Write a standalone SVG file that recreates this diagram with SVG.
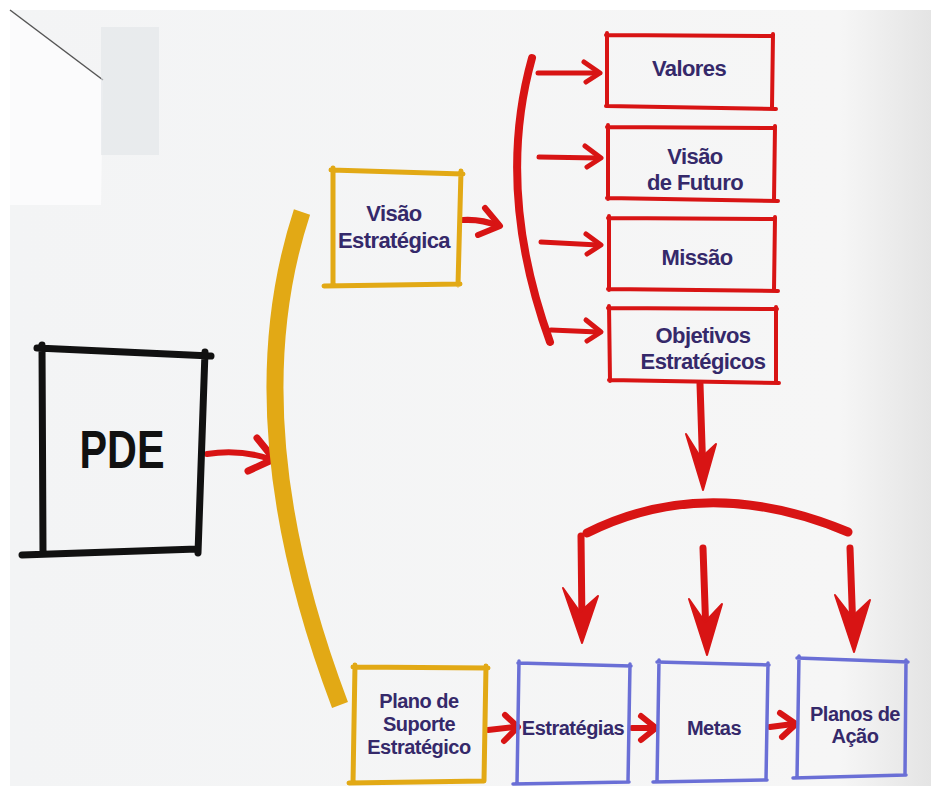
<svg xmlns="http://www.w3.org/2000/svg" width="941" height="796" viewBox="0 0 941 796">
<defs>
<linearGradient id="page" x1="0" y1="0" x2="1" y2="0">
<stop offset="0" stop-color="#f3f4f5"/>
<stop offset="0.9" stop-color="#f6f6f6"/>
<stop offset="1" stop-color="#e4e4e4"/>
</linearGradient>
<style>
.lbl{font-family:"Liberation Sans",Arial,sans-serif;font-weight:bold;font-size:22px;letter-spacing:-0.6px;fill:#35296a;text-anchor:middle}
.sm{font-size:20px;letter-spacing:-0.5px}
.red{fill:none;stroke:#d81414;stroke-linecap:round;stroke-linejoin:round}
.redf{fill:#d81414;stroke:#d81414;stroke-width:2;stroke-linejoin:round}
.rbox{fill:none;stroke:#d81414;stroke-width:4;stroke-linecap:round}
.gbox{fill:none;stroke:#e2a915;stroke-width:5;stroke-linecap:round}
.bbox{fill:none;stroke:#6a6fd6;stroke-width:3.5;stroke-linecap:round}
</style>
</defs>
<rect x="0" y="0" width="941" height="796" fill="#ffffff"/>
<rect x="10" y="10" width="921" height="776" fill="url(#page)"/>
<path d="M10,10 L103,80 L101,205 L10,205 Z" fill="#fbfbfc"/>
<path d="M10,10 L103,80" stroke="#555" stroke-width="1.5" fill="none"/>
<rect x="101" y="27" width="58" height="128" fill="#e1e4e8" opacity="0.6"/>

<g id="connectors">
<path class="red" stroke-width="6" d="M207,454 Q240,449 270,459"/>
<path class="red" stroke-width="7" d="M257,438 L274,459 L248,471"/>
<path d="M302,212 Q233,422 340,705" fill="none" stroke="#e2a915" stroke-width="17"/>
<path class="red" stroke-width="6" d="M463,220 Q482,219 498,226"/>
<path class="red" stroke-width="6" d="M485,208 L500,226 L478,235"/>
<path class="red" stroke-width="8" stroke-linecap="butt" d="M532,58 Q495,190 550,342"/>
<path class="red" stroke-width="5" d="M538,73 L598,73"/>
<path class="red" stroke-width="5" d="M584,62 L600,73 L586,82"/>
<path class="red" stroke-width="5" d="M539,157 L598,158"/>
<path class="red" stroke-width="5" d="M585,146 L601,158 L587,167"/>
<path class="red" stroke-width="5" d="M541,242 L598,245"/>
<path class="red" stroke-width="5" d="M586,234 L601,245 L587,254"/>
<path class="red" stroke-width="5" d="M551,330 L598,332"/>
<path class="red" stroke-width="5" d="M586,320 L601,332 L587,341"/>
<path class="red" stroke-width="7" d="M700,384 L703,476"/>
<path class="redf" d="M703,490 L686,434 L701,458 L716,444 Z"/>
<path class="red" stroke-width="9" d="M587,533 Q707,473 848,532"/>
<path class="red" stroke-width="7" d="M581,536 L582,625"/>
<path class="redf" d="M582,643 L563,588 L580,612 L598,596 Z"/>
<path class="red" stroke-width="7" d="M703,548 L706,635"/>
<path class="redf" d="M707,655 L689,599 L705,622 L722,604 Z"/>
<path class="red" stroke-width="7" d="M850,548 L853,632"/>
<path class="redf" d="M854,652 L835,595 L852,617 L870,600 Z"/>
<path class="red" stroke-width="6" d="M488,730 L514,727"/>
<path class="red" stroke-width="6" d="M505,715 L518,727 L504,741"/>
<path class="red" stroke-width="6" d="M632,728 L653,728"/>
<path class="red" stroke-width="6" d="M641,716 L656,728 L641,740"/>
<path class="red" stroke-width="6" d="M770,727 L793,724"/>
<path class="red" stroke-width="6" d="M780,713 L796,724 L782,737"/>
</g>

<g id="pde">
<path d="M37,348 L211,356 M42,345 L43,552 M205,352 L198,553 M22,555 L197,549" fill="none" stroke="#111" stroke-width="7" stroke-linecap="round"/>
<text transform="translate(122,468) scale(0.78,1)" font-family="Liberation Sans,Arial,sans-serif" font-weight="bold" font-size="53" fill="#111" text-anchor="middle">PDE</text>
</g>

<g id="visao-estrategica">
<path class="gbox" d="M331,170 L463,174 M333,168 L333,283 M461,171 L458,285 M324,286 L460,284"/>
<text class="lbl" x="394" y="221">Visão</text>
<text class="lbl" x="394" y="248">Estratégica</text>
</g>

<g id="valores">
<path class="rbox" d="M606,35 L773,36 M607,33 L607,106 M773,34 L772,107 M606,106 L776,109"/>
<text class="lbl" x="689" y="76">Valores</text>
</g>

<g id="visao-futuro">
<path class="rbox" d="M607,127 L775,128 M608,125 L608,199 M775,126 L774,200 M607,198 L778,201"/>
<text class="lbl" x="695" y="164">Visão</text>
<text class="lbl" x="695" y="190">de Futuro</text>
</g>

<g id="missao">
<path class="rbox" d="M608,218 L775,219 M609,216 L609,290 M775,217 L774,290 M608,289 L778,291"/>
<text class="lbl" x="697" y="265">Missão</text>
</g>

<g id="objetivos">
<path class="rbox" d="M608,308 L777,309 M609,306 L610,381 M776,307 L776,382 M609,380 L779,383"/>
<text class="lbl" x="703" y="343">Objetivos</text>
<text class="lbl" x="703" y="369">Estratégicos</text>
</g>

<g id="plano-suporte">
<path class="gbox" d="M353,667 L488,668 M355,665 L353,783 M486,666 L484,781 M349,783 L484,781"/>
<text class="lbl sm" x="419" y="708">Plano de</text>
<text class="lbl sm" x="419" y="731">Suporte</text>
<text class="lbl sm" x="419" y="754">Estratégico</text>
</g>

<g id="estrategias">
<path class="bbox" d="M518,663 L631,666 M519,661 L517,784 M630,664 L628,782 M513,784 L629,782"/>
<text class="lbl sm" x="573" y="735">Estratégias</text>
</g>

<g id="metas">
<path class="bbox" d="M657,662 L769,665 M659,660 L657,782 M768,663 L766,780 M653,782 L767,780"/>
<text class="lbl sm" x="714" y="735">Metas</text>
</g>

<g id="planos-acao">
<path class="bbox" d="M797,658 L908,662 M799,656 L797,778 M906,660 L905,775 M793,778 L906,775"/>
<text class="lbl sm" x="855" y="721">Planos de</text>
<text class="lbl sm" x="855" y="743">Ação</text>
</g>
</svg>
